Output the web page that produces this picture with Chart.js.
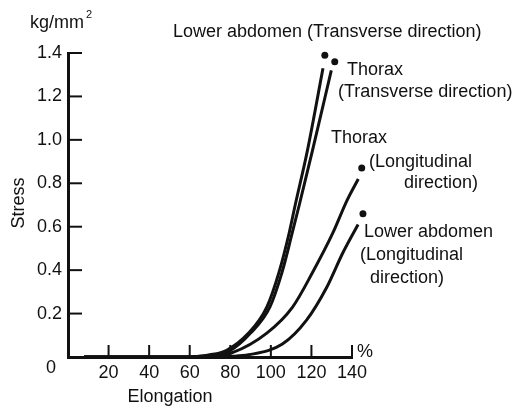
<!DOCTYPE html>
<html>
<head>
<meta charset="utf-8">
<script src="https://cdn.jsdelivr.net/npm/chart.js@4.4.0/dist/chart.umd.min.js"></script>
<style>
  html, body { margin: 0; padding: 0; background: #fff; }
</style>
</head>
<body>
<canvas id="stressChart" width="518" height="411"></canvas>
<script>
// valores (elongacion en %, esfuerzo en kg/mm2)
const abdTransX = [8, 60, 70, 78, 89, 98, 104, 109, 112, 118, 125.7];
const abdTransY = [0, 0, 0.01, 0.03, 0.11, 0.23, 0.39, 0.57, 0.70, 0.95, 1.33];

const thxTransX = [8, 60, 72, 80, 90, 99.5, 105.5, 110.5, 114, 120.5, 129.8];
const thxTransY = [0, 0, 0.01, 0.03, 0.11, 0.23, 0.39, 0.57, 0.70, 0.95, 1.32];

const thxLongX = [8, 60, 72, 81, 98, 110.7, 120.6, 130.5, 137.5, 143.1];
const thxLongY = [0, 0, 0.005, 0.02, 0.11, 0.23, 0.39, 0.57, 0.72, 0.82];

const abdLongX = [8, 70, 80, 89, 105.7, 117.6, 127.5, 135.5, 143];
const abdLongY = [0, 0, 0.003, 0.01, 0.06, 0.17, 0.32, 0.48, 0.61];

// puntos al final de cada curva
const endX = [126.6, 131.5, 144.8, 145.4];
const endY = [1.39, 1.36, 0.87, 0.66];

const xTicks = [20, 40, 60, 80, 100, 120, 140];
const yTicks = [0.2, 0.4, 0.6, 0.8, 1.0, 1.2, 1.4];

const toPoints = (xs, ys) => xs.map((x, i) => ({ x: x, y: ys[i] }));

const FONT = '"Liberation Sans", Arial, sans-serif';
const INK = '#111';

Chart.defaults.font.family = FONT;
Chart.defaults.font.size = 18;
Chart.defaults.color = INK;

// marcas de los ejes hacia adentro, puntos finales y los textos de la figura
const dibujos = {
  id: 'dibujos',
  afterDraw(chart) {
    const c = chart.ctx;
    const sx = chart.scales.x, sy = chart.scales.y;
    c.save();
    c.strokeStyle = '#111';
    c.lineWidth = 2;
    xTicks.forEach(v => {
      const px = sx.getPixelForValue(v);
      c.beginPath();
      c.moveTo(px, sy.bottom);
      c.lineTo(px, sy.bottom - 12);
      c.stroke();
    });
    yTicks.forEach(v => {
      const py = sy.getPixelForValue(v);
      c.beginPath();
      c.moveTo(sx.left, py);
      c.lineTo(sx.left + 14, py);
      c.stroke();
    });

    // los puntos quedan fuera del area del grafico, chart.js no los dibuja solo
    c.fillStyle = '#111';
    endX.forEach((x, i) => {
      c.beginPath();
      c.arc(sx.getPixelForValue(x), sy.getPixelForValue(endY[i]), 3.5, 0, Math.PI * 2);
      c.fill();
    });

    c.fillStyle = INK;
    c.font = '18px ' + FONT;
    c.textBaseline = 'middle';
    c.textAlign = 'left';
    const notas = [
      ['Lower abdomen (Transverse direction)', 173, 32],
      ['Thorax', 347, 70],
      ['(Transverse direction)', 338, 92],
      ['Thorax', 331, 138],
      ['(Longitudinal', 369, 162],
      ['direction)', 404, 183],
      ['Lower abdomen', 364, 232],
      ['(Longitudinal', 360, 255],
      ['direction)', 370, 278],
      ['%', 357, 352],
      ['kg/mm', 30, 23]
    ];
    notas.forEach(n => c.fillText(n[0], n[1], n[2]));
    c.font = '11px ' + FONT;
    c.fillText('2', 86, 15);

    c.font = '18px ' + FONT;
    c.textAlign = 'center';
    c.fillText('0', 51, 368);
    c.fillText('Elongation', 170, 397);
    c.translate(19, 203);
    c.rotate(-Math.PI / 2);
    c.fillText('Stress', 0, 0);
    c.restore();
  }
};

const linea = (datos) => ({
  data: datos,
  showLine: true,
  borderColor: '#111',
  borderWidth: 3,
  pointRadius: 0,
  cubicInterpolationMode: 'monotone',
  clip: false
});

const ctx = document.getElementById('stressChart').getContext('2d');
const grafica = new Chart(ctx, {
  type: 'scatter',
  data: {
    datasets: [
      linea(toPoints(abdTransX, abdTransY)),
      linea(toPoints(thxTransX, thxTransY)),
      linea(toPoints(thxLongX, thxLongY)),
      linea(toPoints(abdLongX, abdLongY))
    ]
  },
  options: {
    responsive: false,
    animation: false,
    layout: { padding: { top: 53, right: 166, bottom: 0, left: 0 } },
    plugins: { legend: { display: false }, tooltip: { enabled: false } },
    scales: {
      x: {
        type: 'linear',
        min: 0,
        max: 140,
        grid: { display: false, drawTicks: false },
        border: { display: true, color: '#111', width: 3 },
        ticks: {
          stepSize: 20,
          autoSkip: false,
          maxRotation: 0,
          padding: 5,
          callback: v => (v === 0 ? '' : v)
        },
        afterFit: s => { s.height = 54; }
      },
      y: {
        min: 0,
        max: 1.4,
        grid: { display: false, drawTicks: false },
        border: { display: true, color: '#111', width: 3 },
        ticks: {
          stepSize: 0.2,
          padding: 6,
          callback: v => (Math.abs(v) < 1e-9 ? '' : v.toFixed(1))
        },
        afterFit: s => { s.width = 68; }
      }
    }
  },
  plugins: [dibujos]
});
</script>
</body>
</html>
